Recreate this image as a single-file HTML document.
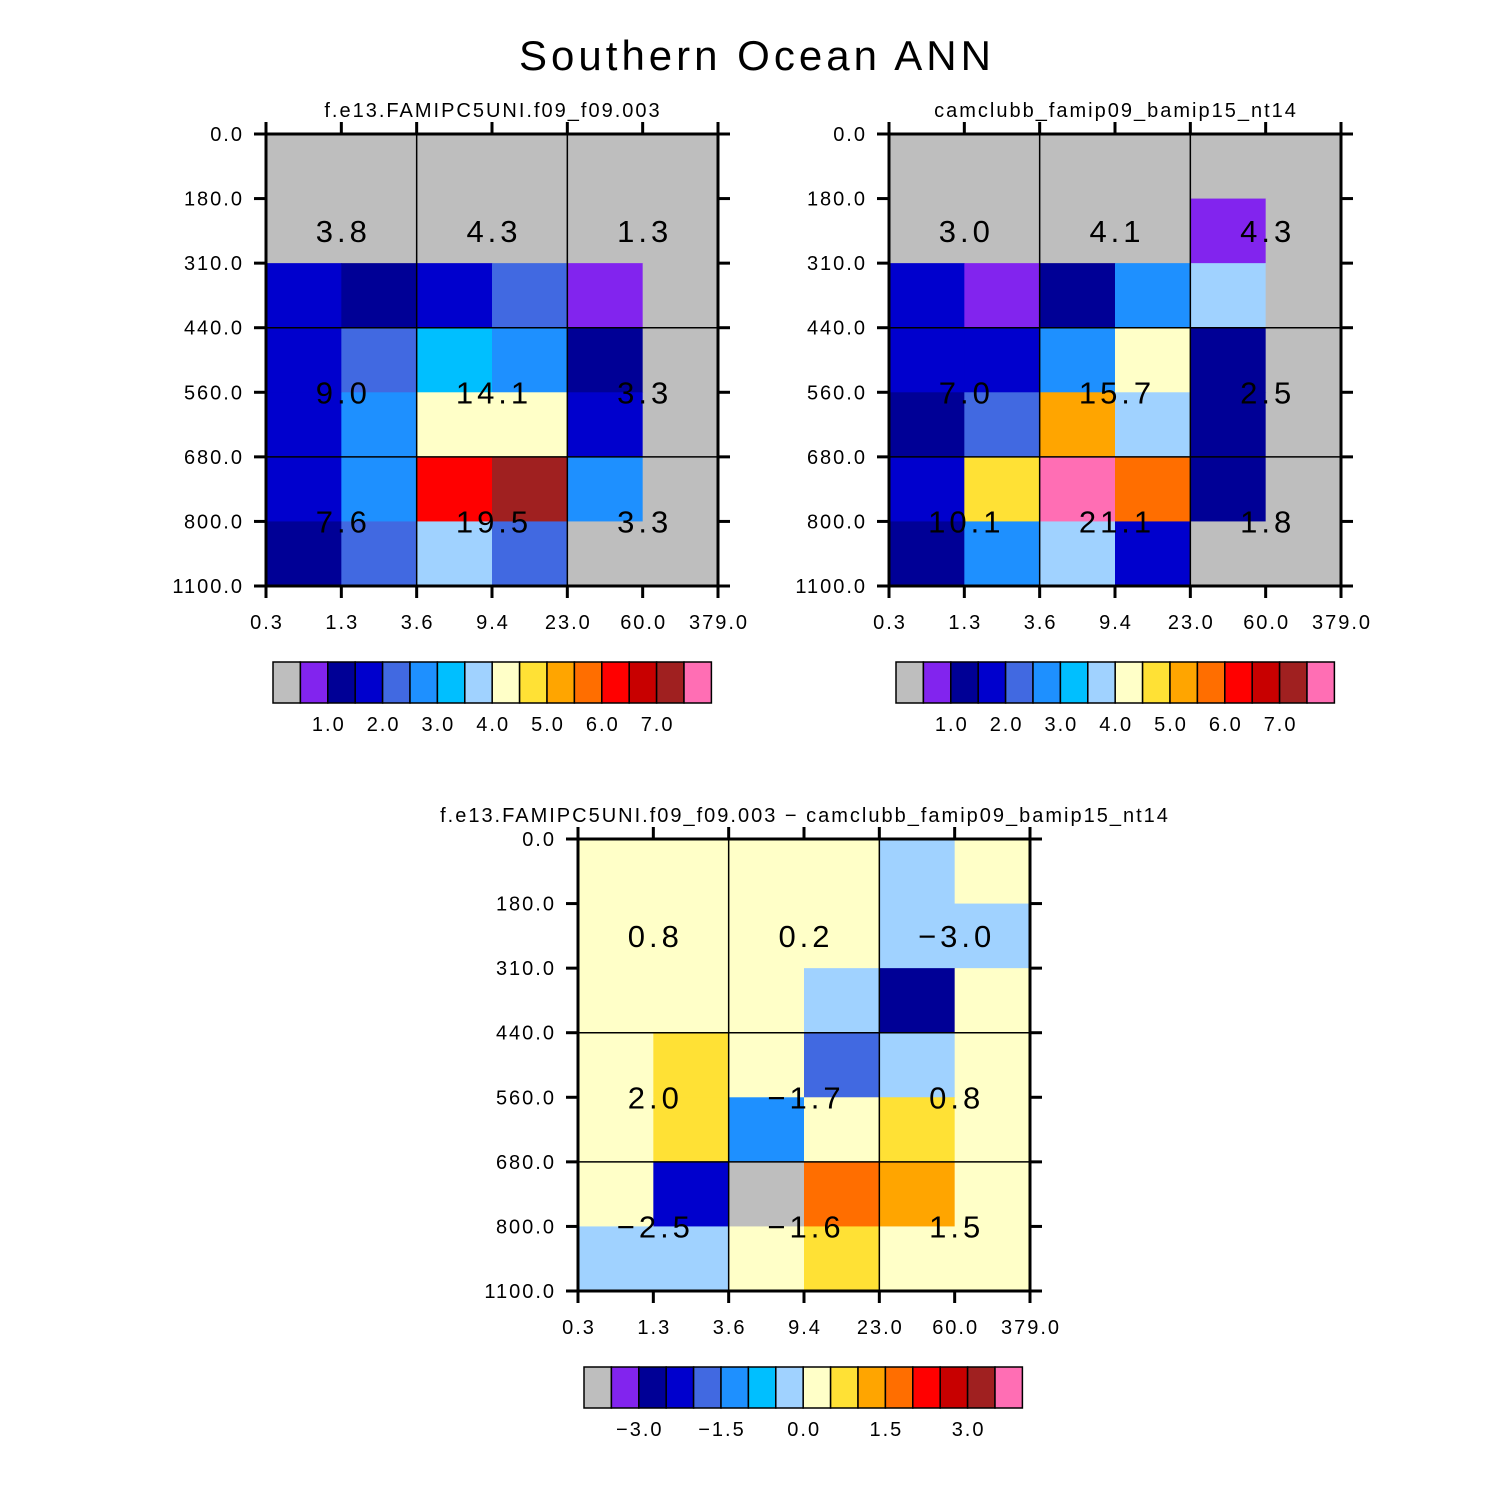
<!DOCTYPE html>
<html><head><meta charset="utf-8"><style>
html,body{margin:0;padding:0;background:#fff;}
svg{display:block;font-family:"Liberation Sans",sans-serif;}
</style></head><body>
<svg id="chart" width="1510" height="1510" viewBox="0 0 1510 1510">
<text x="757" y="70" text-anchor="middle" font-size="42" font-weight="300" fill="#000" style="letter-spacing:4px">Southern Ocean ANN</text>
</svg>
<script>
const palette = ["#BEBEBE","#8224EE","#000096","#0000CD","#4169E1","#1E90FF","#00BFFF","#A0D2FF","#FFFFC8","#FFE135","#FFA500","#FF6E00","#FF0000","#C80000","#A02020","#FF6EB4"];
const xTicks = ["0.3","1.3","3.6","9.4","23.0","60.0","379.0"];
const yTicks = ["0.0","180.0","310.0","440.0","560.0","680.0","800.0","1100.0"];
const panel1Cells = [
 [0,0,0,0,0,0],
 [0,0,0,0,0,0],
 [3,2,3,4,1,0],
 [3,4,6,5,2,0],
 [3,5,8,8,3,0],
 [3,5,12,14,5,0],
 [2,4,7,4,0,0]];
const panel2Cells = [
 [0,0,0,0,0,0],
 [0,0,0,0,1,0],
 [3,1,2,5,7,0],
 [3,3,5,8,2,0],
 [2,4,10,7,2,0],
 [3,9,15,11,2,0],
 [2,5,7,3,0,0]];
const panel3Cells = [
 [8,8,8,8,7,8],
 [8,8,8,8,7,7],
 [8,8,8,7,2,8],
 [8,9,8,4,7,8],
 [8,9,5,8,9,8],
 [8,3,0,11,10,8],
 [7,7,8,9,8,8]];
const panel1Values = ["3.8","4.3","1.3","9.0","14.1","3.3","7.6","19.5","3.3"];
const panel2Values = ["3.0","4.1","4.3","7.0","15.7","2.5","10.1","21.1","1.8"];
const panel3Values = ["0.8","0.2","\u22123.0","2.0","\u22121.7","0.8","\u22122.5","\u22121.6","1.5"];
const cbLabelsAbs = ["1.0","2.0","3.0","4.0","5.0","6.0","7.0"];
const cbLabelsDiff = ["\u22123.0","\u22121.5","0.0","1.5","3.0"];

const svg = document.getElementById('chart');
const NS = 'http://www.w3.org/2000/svg';
function mk(tag, attrs, parent){
  const e = document.createElementNS(NS, tag);
  for (const k in attrs) e.setAttribute(k, attrs[k]);
  (parent||svg).appendChild(e);
  return e;
}
function panel(px, py, cells, values, subtitle, key){
  const W = 452, H = 452;
  const nx = cells[0].length, ny = cells.length;
  const xs = i => px + i*W/nx;
  const ys = j => py + j*H/ny;
  const g = mk('g', {});
  
  
  cells.forEach((row, j) => row.forEach((c, i) => {
    const r = mk('rect', {x: xs(i), y: ys(j), width: W/nx+0.5, height: H/ny+0.5, fill: palette[c]}, g);
    
    
  }));
  [2,4].forEach(i => mk('line', {x1: xs(i), x2: xs(i), y1: py, y2: py+H, stroke: '#000', 'stroke-width': 1.5}, g));
  [3,5].forEach(j => mk('line', {x1: px, x2: px+W, y1: ys(j), y2: ys(j), stroke: '#000', 'stroke-width': 1.5}, g));
  mk('rect', {x: px, y: py, width: W, height: H, fill: 'none', stroke: '#000', 'stroke-width': 3}, g);
  xTicks.forEach((t, i) => {
    mk('line', {x1: xs(i), x2: xs(i), y1: py+H, y2: py+H+12, stroke: '#000', 'stroke-width': 3}, g);
    mk('line', {x1: xs(i), x2: xs(i), y1: py, y2: py-12, stroke: '#000', 'stroke-width': 3}, g);
    const tx = mk('text', {x: xs(i)+1, y: py+H+43, 'text-anchor': 'middle', 'font-size': 20, style: 'letter-spacing:2px'}, g);
    tx.textContent = t;
    
    
  });
  yTicks.forEach((t, j) => {
    mk('line', {x1: px-12, x2: px, y1: ys(j), y2: ys(j), stroke: '#000', 'stroke-width': 3}, g);
    mk('line', {x1: px+W, x2: px+W+12, y1: ys(j), y2: ys(j), stroke: '#000', 'stroke-width': 3}, g);
    const tx = mk('text', {x: px-22, y: ys(j)+7, 'text-anchor': 'end', 'font-size': 20, style: 'letter-spacing:2px'}, g);
    tx.textContent = t;
    
    
  });
  const colsC = [1,3,5], rowsC = [1.5,4,6];
  values.forEach((v, k) => {
    const tx = mk('text', {x: xs(colsC[k%3])+2, y: ys(rowsC[Math.floor(k/3)])+11, 'text-anchor': 'middle', 'font-size': 31, 'font-weight': 300, style: 'letter-spacing:4px'}, g);
    tx.textContent = v;
    
    
  });
  const st = mk('text', {x: px+W/2+1, y: py-17, 'text-anchor': 'middle', 'font-size': 20, style: 'letter-spacing:2px'}, g);
  st.textContent = subtitle;
  
  
}
function colorbar(x0, y0, labels, idx, key){
  const bw = 27.4, bh = 41;
  const g = mk('g', {});
  
  
  palette.forEach((c, i) => {
    const r = mk('rect', {x: x0+i*bw, y: y0, width: bw, height: bh, fill: c, stroke: '#000', 'stroke-width': 1.5}, g);
    
    
  });
  labels.forEach((l, k) => {
    const tx = mk('text', {x: x0+idx[k]*bw+1, y: y0+bh+28, 'text-anchor': 'middle', 'font-size': 20, style: 'letter-spacing:2px'}, g);
    tx.textContent = l;
    
    
  });
}
panel(266, 134, panel1Cells, panel1Values, "f.e13.FAMIPC5UNI.f09_f09.003", "model1");
panel(889, 134, panel2Cells, panel2Values, "camclubb_famip09_bamip15_nt14", "model2");
panel(578, 839, panel3Cells, panel3Values, "f.e13.FAMIPC5UNI.f09_f09.003 \u2212 camclubb_famip09_bamip15_nt14", "difference");
colorbar(273, 662, cbLabelsAbs, [2,4,6,8,10,12,14], "model1");
colorbar(896, 662, cbLabelsAbs, [2,4,6,8,10,12,14], "model2");
colorbar(584, 1367, cbLabelsDiff, [2,5,8,11,14], "difference");
</script>
</body></html>
